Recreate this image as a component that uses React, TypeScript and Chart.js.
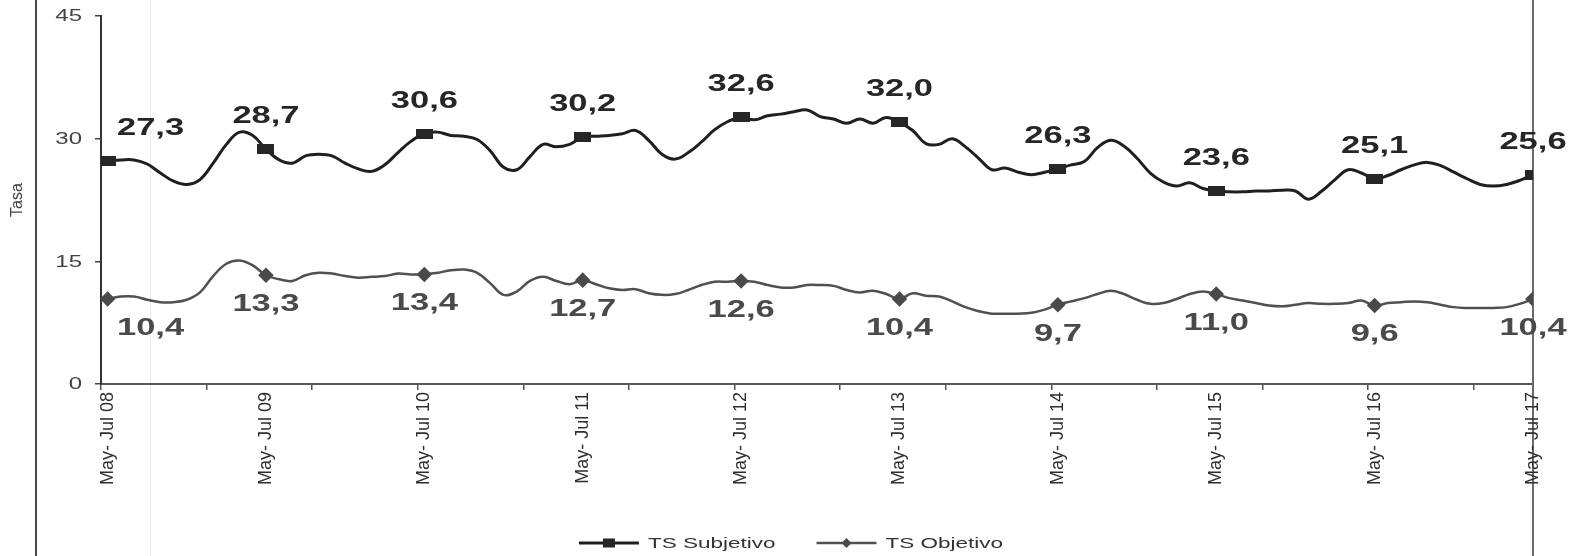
import React, { useEffect, useRef } from 'react';
import { Chart, registerables } from 'chart.js';

Chart.register(...registerables);

// ---------- DATA ----------
const monthNames = ['Ene', 'Feb', 'Mar', 'Abr', 'May', 'Jun', 'Jul', 'Ago', 'Sep', 'Oct', 'Nov', 'Dic'];

// Rolling quarters, monthly from "May- Jul 08" to "May- Jul 17"
const subjetivo: number[] = [
  27.3, 27.4, 27.4, 26.9, 25.8, 24.8, 24.4, 25.0, 27.0, 29.3, 30.8, 30.4,
  28.7, 27.4, 27.0, 27.9, 28.1, 27.9, 27.0, 26.3, 26.0, 26.8, 28.3, 29.7,
  30.6, 30.8, 30.4, 30.3, 29.9, 28.5, 26.5, 26.2, 27.8, 29.3, 29.0, 29.3,
  30.2, 30.3, 30.4, 30.6, 31.0, 29.8, 28.1, 27.5, 28.3, 29.6, 31.1, 32.1,
  32.6, 32.3, 32.8, 33.0, 33.3, 33.5, 32.7, 32.4, 31.9, 32.4, 31.9, 32.6,
  32.0, 31.0, 29.4, 29.3, 30.0, 29.0, 27.6, 26.2, 26.4, 25.9, 25.6, 25.9,
  26.3, 26.8, 27.2, 28.9, 29.8, 29.1, 27.6, 25.8, 24.7, 24.2, 24.6, 23.9,
  23.6, 23.5, 23.5, 23.6, 23.6, 23.7, 23.6, 22.6, 23.6, 25.0, 26.2, 25.8,
  25.1, 25.5, 26.2, 26.8, 27.1, 26.7, 25.9, 25.1, 24.4, 24.2, 24.4, 24.9,
  25.6,
];

const objetivo: number[] = [
  10.4, 10.7, 10.7, 10.3, 10.0, 10.0, 10.3, 11.2, 13.2, 14.7, 15.1, 14.5,
  13.3, 12.8, 12.6, 13.3, 13.6, 13.5, 13.2, 13.0, 13.1, 13.2, 13.5, 13.4,
  13.4, 13.6, 13.9, 14.0, 13.6, 12.3, 10.9, 11.3, 12.6, 13.1, 12.6, 12.2,
  12.7, 12.2, 11.7, 11.5, 11.6, 11.1, 10.9, 11.0, 11.5, 12.1, 12.5, 12.5,
  12.6, 12.5, 12.1, 11.8, 11.8, 12.1, 12.1, 12.0, 11.5, 11.2, 11.4, 11.0,
  10.4, 11.1, 10.8, 10.7, 10.1, 9.4, 8.9, 8.6, 8.6, 8.6, 8.7, 9.1,
  9.7, 10.1, 10.5, 11.0, 11.4, 11.0, 10.3, 9.8, 9.9, 10.4, 11.0, 11.3,
  11.0, 10.5, 10.2, 9.9, 9.6, 9.5, 9.7, 9.9, 9.8, 9.8, 9.9, 10.2,
  9.6, 9.9, 10.0, 10.1, 10.0, 9.7, 9.4, 9.3, 9.3, 9.3, 9.4, 9.8,
  10.4,
];

const periods: string[] = subjetivo.map((_, i) => {
  const start = monthNames[(4 + i) % 12];
  const end = monthNames[(6 + i) % 12];
  const yy = String(8 + Math.floor((6 + i) / 12)).padStart(2, '0');
  return `${start}- ${end} ${yy}`;
});

const seriesNames = ['TS Subjetivo', 'TS Objetivo'];
const yTicks = [0, 15, 30, 45];
const LABEL_EVERY = 12;
const TICKMARK_EVERY = 8;

// ---------- STYLE ----------
const FONT = '"Liberation Sans", Arial, sans-serif';
const STRETCH = 1.5;
const X_MIN = -0.5;

function drawStretched(
  ctx: CanvasRenderingContext2D,
  text: string,
  x: number,
  y: number,
  align: CanvasTextAlign,
  font: string,
  color: string,
  baseline: CanvasTextBaseline = 'alphabetic'
) {
  ctx.save();
  ctx.font = font;
  ctx.fillStyle = color;
  ctx.textAlign = align;
  ctx.textBaseline = baseline;
  ctx.translate(x, y);
  ctx.scale(STRETCH, 1);
  ctx.fillText(text, 0, 0);
  ctx.restore();
}

export default function App() {
  const ref = useRef<HTMLCanvasElement | null>(null);

  useEffect(() => {
    const canvas = ref.current;
    if (!canvas) return;

    const squareImg = document.createElement('canvas');
    squareImg.width = 17;
    squareImg.height = 10;
    const sctx = squareImg.getContext('2d')!;
    sctx.fillStyle = '#262626';
    sctx.fillRect(0, 0, 17, 10);

    const decor = {
      id: 'decor',
      beforeDraw(chart: any) {
        const { ctx, width, height, chartArea } = chart;
        ctx.save();
        ctx.fillStyle = '#ffffff';
        ctx.fillRect(0, 0, width, height);
        // frame / scan lines
        ctx.strokeStyle = '#ececec';
        ctx.lineWidth = 1;
        ctx.beginPath();
        ctx.moveTo(150.5, 0);
        ctx.lineTo(150.5, height);
        ctx.stroke();
        ctx.strokeStyle = '#4a4a4a';
        ctx.lineWidth = 2;
        ctx.beginPath();
        ctx.moveTo(36, 0);
        ctx.lineTo(36, height);
        ctx.stroke();
        ctx.strokeStyle = '#3a3a3a';
        ctx.lineWidth = 1.5;
        ctx.beginPath();
        ctx.moveTo(chartArea.right, 0);
        ctx.lineTo(chartArea.right, height);
        ctx.stroke();
        ctx.restore();
      },
      afterDatasetsDraw(chart: any) {
        const { ctx, chartArea } = chart;
        const fontBold = `bold 23px ${FONT}`;
        chart.data.datasets.forEach((ds: any, di: number) => {
          const meta = chart.getDatasetMeta(di);
          meta.data.forEach((pt: any, i: number) => {
            if (i % LABEL_EVERY !== 0) return;
            const v = ds.data[i].y as number;
            const text = v.toFixed(1).replace('.', ',');
            ctx.save();
            ctx.font = fontBold;
            const w = ctx.measureText(text).width * STRETCH;
            ctx.restore();
            let cx = pt.x;
            const minLeft = chartArea.left + 16;
            if (cx - w / 2 < minLeft) cx = minLeft + w / 2;
            if (di === 0) {
              drawStretched(ctx, text, cx, pt.y - 26, 'center', fontBold, '#262626');
            } else {
              drawStretched(ctx, text, cx, pt.y + 36, 'center', fontBold, '#4a4a4a');
            }
          });
        });
      },
      afterDraw(chart: any) {
        const { ctx, width, scales } = chart;
        // y tick labels
        const ys = scales.y;
        ys.ticks.forEach((t: any) => {
          const y = ys.getPixelForValue(t.value);
          drawStretched(ctx, String(t.value), 82, y + 1, 'right', `16px ${FONT}`, '#444', 'middle');
        });
        // legend
        const legendFont = `15px ${FONT}`;
        ctx.save();
        ctx.font = legendFont;
        const textW = seriesNames.map((n) => ctx.measureText(n).width * STRETCH);
        ctx.restore();
        const sample = 60;
        const gapText = 9;
        const gapItems = 41;
        const total = textW.reduce((a, b) => a + b, 0) + 2 * (sample + gapText) + gapItems;
        let x = (width - total) / 2;
        const ly = 543;
        seriesNames.forEach((name, i) => {
          ctx.save();
          ctx.strokeStyle = i === 0 ? '#1f1f1f' : '#505050';
          ctx.lineWidth = i === 0 ? 3 : 2.5;
          ctx.beginPath();
          ctx.moveTo(x, ly);
          ctx.lineTo(x + sample, ly);
          ctx.stroke();
          const mx = x + sample / 2;
          if (i === 0) {
            ctx.fillStyle = '#262626';
            ctx.fillRect(mx - 6, ly - 4.5, 12, 9);
          } else {
            ctx.fillStyle = '#4a4a4a';
            ctx.beginPath();
            ctx.moveTo(mx, ly - 5);
            ctx.lineTo(mx + 5, ly);
            ctx.lineTo(mx, ly + 5);
            ctx.lineTo(mx - 5, ly);
            ctx.closePath();
            ctx.fill();
          }
          ctx.restore();
          drawStretched(ctx, name, x + sample + gapText, ly + 1, 'left', legendFont, '#333', 'middle');
          x += sample + gapText + textW[i] + gapItems;
        });
      },
    };

    const chart = new Chart(canvas, {
      type: 'line',
      data: {
        datasets: [
          {
            label: seriesNames[0],
            data: subjetivo.map((y, x) => ({ x, y })),
            borderColor: '#1f1f1f',
            backgroundColor: '#262626',
            borderWidth: 3,
            tension: 0.4,
            pointStyle: squareImg as any,
            pointRadius: (c: any) => (c.dataIndex % LABEL_EVERY === 0 ? 6 : 0),
            pointHoverRadius: (c: any) => (c.dataIndex % LABEL_EVERY === 0 ? 6 : 0),
          },
          {
            label: seriesNames[1],
            data: objetivo.map((y, x) => ({ x, y })),
            borderColor: '#505050',
            backgroundColor: '#4a4a4a',
            pointBackgroundColor: '#4a4a4a',
            pointBorderColor: '#4a4a4a',
            borderWidth: 2.5,
            tension: 0.4,
            pointStyle: 'rectRot',
            pointRadius: (c: any) => (c.dataIndex % LABEL_EVERY === 0 ? 6 : 0),
            pointHoverRadius: (c: any) => (c.dataIndex % LABEL_EVERY === 0 ? 6 : 0),
          },
        ],
      },
      options: {
        responsive: false,
        animation: false,
        events: [],
        layout: { padding: { left: 0, top: 16, right: 49, bottom: 0 } },
        plugins: {
          legend: { display: false },
          tooltip: { enabled: false },
        },
        scales: {
          x: {
            type: 'linear',
            min: X_MIN,
            max: subjetivo.length - 1,
            bounds: 'data',
            afterBuildTicks: (s: any) => {
              const ticks: { value: number }[] = [];
              for (let v = 0; v < periods.length; v += LABEL_EVERY) ticks.push({ value: v });
              for (let v = X_MIN; v <= periods.length - 1; v += TICKMARK_EVERY) ticks.push({ value: v });
              ticks.sort((a, b) => a.value - b.value);
              s.ticks = ticks;
            },
            afterFit: (s: any) => {
              s.height = 172;
            },
            ticks: {
              autoSkip: false,
              minRotation: 90,
              maxRotation: 90,
              padding: 2,
              color: '#2e2e2e',
              font: { family: FONT, size: 18 },
              callback: (v: any) =>
                Number.isInteger(v) && v % LABEL_EVERY === 0 ? periods[v] : '',
            },
            grid: {
              drawOnChartArea: false,
              drawTicks: true,
              tickLength: 6,
              lineWidth: 1.5,
              color: (c: any) => {
                const v = c.tick ? c.tick.value : 0;
                return !Number.isInteger(v) ? '#555' : 'rgba(0,0,0,0)';
              },
            },
            border: { display: true, color: '#5a5a5a', width: 2 },
          },
          y: {
            min: yTicks[0],
            max: yTicks[yTicks.length - 1],
            afterBuildTicks: (s: any) => {
              s.ticks = yTicks.map((value) => ({ value }));
            },
            afterFit: (s: any) => {
              s.width = 101;
            },
            ticks: { display: false },
            grid: {
              drawOnChartArea: false,
              drawTicks: true,
              tickLength: 6,
              lineWidth: 1.5,
              color: '#444',
            },
            border: { display: true, color: '#333', width: 2 },
            title: {
              display: true,
              text: 'Tasa',
              color: '#444',
              font: { family: FONT, size: 16 },
              padding: { top: 8, bottom: 0 },
            },
          },
        },
      },
      plugins: [decor],
    } as any);

    return () => {
      chart.destroy();
    };
  }, []);

  return (
    <div style={{ position: 'absolute', left: 0, top: 0, width: 1582, height: 556, background: '#fff' }}>
      <canvas ref={ref} width={1582} height={556} style={{ display: 'block' }} />
    </div>
  );
}
